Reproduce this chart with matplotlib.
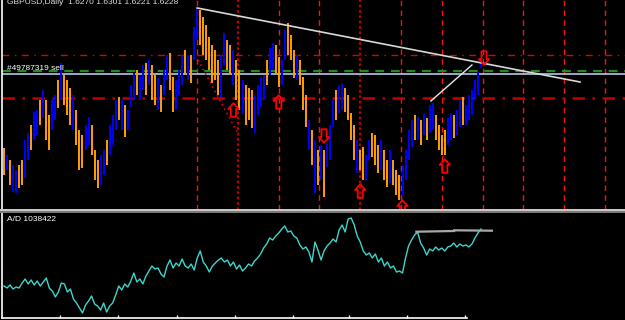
import numpy as np
import matplotlib
matplotlib.use("Agg")
import matplotlib.pyplot as plt
from matplotlib.path import Path
from matplotlib.patches import Rectangle

# daily bars, GBPUSD (high / low per bar)
highs = [1.542, 1.535, 1.530, 1.525, 1.520, 1.525, 1.530,
         1.550, 1.557, 1.565, 1.578, 1.580, 1.590, 1.600,
         1.590, 1.575, 1.590, 1.595, 1.610, 1.627, 1.615,
         1.610, 1.602, 1.595, 1.580, 1.560, 1.555, 1.565,
         1.573, 1.565, 1.540, 1.530, 1.535, 1.540, 1.550,
         1.565, 1.575, 1.590, 1.593, 1.590, 1.585, 1.580,
         1.605, 1.617, 1.620, 1.615, 1.625, 1.627, 1.630,
         1.625, 1.615, 1.612, 1.605, 1.620, 1.635, 1.637,
         1.613, 1.610, 1.620, 1.635, 1.640, 1.635, 1.635,
         1.663, 1.682, 1.680, 1.673, 1.665, 1.653, 1.645,
         1.640, 1.630, 1.635, 1.657, 1.650, 1.645, 1.640,
         1.630, 1.620, 1.610, 1.605, 1.602, 1.600, 1.595,
         1.605, 1.613, 1.615, 1.630, 1.642, 1.647, 1.645,
         1.633, 1.630, 1.660, 1.667, 1.655, 1.640, 1.635,
         1.630, 1.613, 1.595, 1.570, 1.560, 1.550, 1.540,
         1.545, 1.540, 1.547, 1.565, 1.590, 1.600, 1.605,
         1.607, 1.602, 1.595, 1.577, 1.565, 1.550, 1.540,
         1.543, 1.535, 1.550, 1.557, 1.555, 1.545, 1.550,
         1.540, 1.530, 1.540, 1.530, 1.520, 1.515, 1.525,
         1.540, 1.560, 1.570, 1.575, 1.573, 1.570, 1.577,
         1.572, 1.585, 1.587, 1.575, 1.565, 1.555, 1.560,
         1.572, 1.577, 1.575, 1.580, 1.590, 1.593, 1.585,
         1.595, 1.600, 1.610, 1.618, 1.6301]
lows = [1.515, 1.520, 1.505, 1.498, 1.497, 1.502, 1.505,
        1.512, 1.530, 1.540, 1.550, 1.555, 1.565, 1.572,
        1.550, 1.540, 1.560, 1.570, 1.582, 1.590, 1.585,
        1.575, 1.565, 1.560, 1.545, 1.520, 1.522, 1.540,
        1.545, 1.535, 1.510, 1.502, 1.505, 1.515, 1.525,
        1.535, 1.545, 1.560, 1.570, 1.560, 1.553, 1.560,
        1.583, 1.590, 1.595, 1.590, 1.600, 1.595, 1.605,
        1.590, 1.585, 1.580, 1.578, 1.595, 1.610, 1.600,
        1.578, 1.580, 1.595, 1.605, 1.615, 1.610, 1.607,
        1.630, 1.650, 1.645, 1.635, 1.630, 1.620, 1.607,
        1.610, 1.595, 1.593, 1.625, 1.620, 1.615, 1.605,
        1.590, 1.580, 1.577, 1.565, 1.570, 1.562, 1.557,
        1.575, 1.583, 1.590, 1.605, 1.615, 1.620, 1.617,
        1.603, 1.605, 1.630, 1.635, 1.630, 1.612, 1.610,
        1.605, 1.580, 1.563, 1.540, 1.525, 1.497, 1.505,
        1.510, 1.493, 1.523, 1.530, 1.563, 1.570, 1.577,
        1.580, 1.578, 1.570, 1.550, 1.530, 1.517, 1.520,
        1.510, 1.510, 1.530, 1.533, 1.525, 1.517, 1.520,
        1.510, 1.503, 1.507, 1.505, 1.495, 1.490, 1.495,
        1.510, 1.530, 1.543, 1.550, 1.550, 1.545, 1.555,
        1.550, 1.557, 1.560, 1.550, 1.540, 1.535, 1.535,
        1.545, 1.550, 1.552, 1.555, 1.563, 1.565, 1.565,
        1.570, 1.575, 1.590, 1.595, 1.6221]
# b = bull bar, o = bear bar
bar_dir = ("obobboo" "bbobbob" "oobbobo" "oobooob" "booobbo" "bbbobob"
           "bbobbob" "oobobbo" "obbbobo" "bbooooo" "oobboob" "oobooob"
           "bbbobbo" "obbooob" "ooobobo" "bobbbob" "boooobo" "obbooob"
           "oobooob" "bbbobob" "obboooo" "bbobbob" "bbbbb")

# accumulation/distribution, thousands
ad_k = [468, 448, 478, 438, 458, 448, 498, 538, 488, 528, 478, 518, 468, 508,
        548, 448, 418, 358, 408, 498, 488, 408, 438, 338, 298, 248, 198, 278,
        318, 368, 288, 268, 228, 298, 208, 268, 298, 378, 468, 428, 488, 458,
        518, 598, 508, 538, 488, 568, 618, 668, 638, 648, 588, 558, 668, 728,
        648, 698, 668, 738, 668, 648, 688, 628, 748, 818, 708, 668, 608, 668,
        698, 728, 748, 708, 728, 668, 708, 638, 678, 618, 648, 688, 668, 718,
        748, 788, 848, 888, 948, 928, 968, 998, 1038, 1068, 1008, 1018, 968,
        948, 878, 838, 858, 808, 708, 908, 828, 728, 818, 868, 898, 938, 908,
        1028, 1078, 1008, 1138, 1148, 1078, 968, 908, 818, 778, 798, 748, 788,
        708, 748, 668, 708, 648, 668, 608, 618, 598, 748, 868, 928, 978, 1008,
        898, 848, 778, 838, 818, 858, 828, 848, 818, 858, 868, 898, 858, 888,
        868, 878, 858, 888, 948, 998, 1038]

# chart objects
level_top = 1.635
level_green = 1.6185
sell_price = 1.616
level_low = 1.592
vline_bars = [64, 77.5, 91, 104.5, 118, 131.5, 145, 158.5, 172, 185.5, 199]
heavy_vlines = [77.5, 118]
trend_x = [64, 190.8]
trend_y = [1.682, 1.608]
short_x = [141.4, 155.0]
short_y = [1.589, 1.625]
dotted_x = [64.3, 77.2]
dotted_y = [1.630, 1.558]
arrow_bars = [76, 91, 106, 118, 132, 146, 159]
arrow_prices = [1.580, 1.588, 1.554, 1.499, 1.483, 1.524, 1.632]
arrow_up = [True, True, False, True, True, True, False]
ad_level_x = [[136.6, 149.1], [149.1, 161.6]]
ad_level_y = [[1011, 1018], [1025, 1021]]

W, H = 625.0, 320.0
fig = plt.figure(figsize=(6.25, 3.2), dpi=100, facecolor="black")
ax = fig.add_axes([2 / W, 1 - 210 / H, 623 / W, 210 / H], facecolor="black")
ax2 = fig.add_axes([2 / W, 2 / H, 623 / W, 105 / H], facecolor="black")

xl = (-2 / 3.019, 621 / 3.019)
idx = np.arange(len(highs))
cols = ["#0000ff" if d == "b" else "#ff9f00" for d in bar_dir]

# vertical markers
for v in vline_bars:
    if v in heavy_vlines:
        ax.axvline(v, color="#c00000", lw=1.6, ls=(0, (1.2, 1.2)), zorder=1)
    else:
        ax.axvline(v, color="#ff1010", lw=1.0, ls=(0, (4, 3)), zorder=1)

ax.axhline(level_top, color="#e00000", lw=1.0, ls=(0, (5, 4, 1, 4)), zorder=1)
ax.axhline(level_green, color="#1e8c1e", lw=1.6, ls=(0, (4, 3)), zorder=1)
ax.axhline(sell_price, color="#b8c8e0", lw=1.2, zorder=1)
ax.axhline(level_low, color="#c00000", lw=1.8, ls=(0, (5, 3, 1, 3)), zorder=1)

ax.vlines(idx, lows, highs, colors=cols, lw=1.4, zorder=2)

ax.plot(trend_x, trend_y, color="#d8d8d8", lw=1.2, zorder=3)
ax.plot(short_x, short_y, color="#e8e8e8", lw=1.0, zorder=3)
ax.plot(dotted_x, dotted_y, color="#e00000", lw=1.2, ls=(0, (1, 2)), zorder=3)

up = Path([(-0.19, -0.5), (0.19, -0.5), (0.19, 0.08), (0.38, 0.08), (0, 0.5),
           (-0.38, 0.08), (-0.19, 0.08), (-0.19, -0.5)], closed=True)
down = Path([(x, -y) for x, y in up.vertices], closed=True)
for b, p, u in zip(arrow_bars, arrow_prices, arrow_up):
    ax.scatter([b], [p], marker=up if u else down, s=95, facecolors="none",
               edgecolors="#ff0000", linewidths=1.3, zorder=4)

ax.set_xlim(*xl)
ax.set_ylim(1.480, 1.690)
ax.set_xticks([])
ax.set_yticks([])
for s in ["top", "right", "bottom"]:
    ax.spines[s].set_visible(False)
ax.spines["left"].set_color("white")
ax.spines["left"].set_linewidth(1.2)

ax.text(0.008, 1.004, "GBPUSD,Daily  1.6270 1.6301 1.6221 1.6228", transform=ax.transAxes,
        color="#e0e0e0", fontsize=6.0, family="Liberation Sans", va="top", ha="left")
ax.text(1.0, 1.6195, "#49787319 sell", color="white", fontsize=6.0,
        family="Liberation Sans", va="baseline", ha="left", zorder=5)

# separator between panels
fig.add_artist(Rectangle((0, 1 - 210.5 / H), 1, 1.6 / H, transform=fig.transFigure,
                         color="#c8c8c8", lw=0))
fig.add_artist(Rectangle((0, 1 - 212.8 / H), 1, 2.3 / H, transform=fig.transFigure,
                         color="#7a7a7a", lw=0))

# A/D panel
ax2.plot(np.arange(len(ad_k)), ad_k, color="#3cd6cc", lw=1.0)
for xs, ys in zip(ad_level_x, ad_level_y):
    ax2.plot(xs, ys, color="#a8a8a8", lw=1.6)
ax2.set_xlim(*xl)
ax2.set_ylim(148, 1198)
for s in ["top", "right"]:
    ax2.spines[s].set_visible(False)
ax2.spines["left"].set_color("white")
ax2.spines["left"].set_linewidth(1.2)
ax2.spines["bottom"].set_color("white")
ax2.spines["bottom"].set_linewidth(1.2)
ax2.spines["bottom"].set_bounds(xl[0], 153.4)
ax2.set_xticks([18.5, 37.8, 57.3, 76.5, 95.7, 114.3, 133.5, 152.7])
ax2.set_xticklabels([])
ax2.set_yticks([])
ax2.tick_params(axis="x", direction="in", length=2, color="white", width=1)
ax2.text(0.008, 0.975, "A/D 1038422", transform=ax2.transAxes, color="white",
         fontsize=6.0, family="Liberation Sans", va="top", ha="left")

fig.savefig("out.png", dpi=100, facecolor="black")
